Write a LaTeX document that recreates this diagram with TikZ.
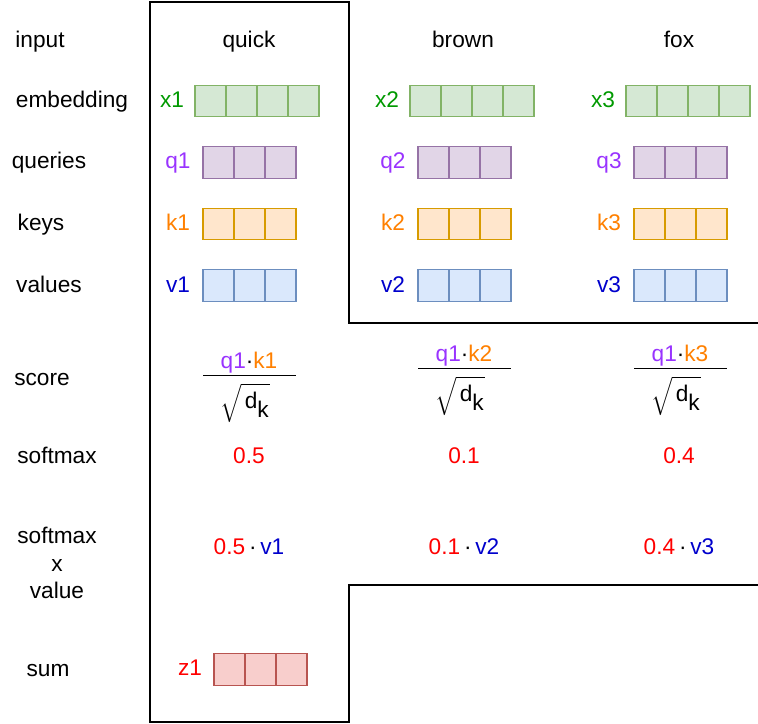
\documentclass[tikz,border=0pt]{standalone}
\usepackage{amsmath}
\usepackage{fontspec}
\setmainfont{Liberation Sans}
\usepackage{tikz}
\usepackage{xcolor}

\definecolor{xtxt}{HTML}{009900}
\definecolor{qtxt}{HTML}{9933FF}
\definecolor{ktxt}{HTML}{FF8000}
\definecolor{vtxt}{HTML}{0000CC}
\definecolor{ztxt}{HTML}{FF0000}
\definecolor{xfill}{HTML}{D5E8D4}
\definecolor{xline}{HTML}{82B366}
\definecolor{qfill}{HTML}{E1D5E7}
\definecolor{qline}{HTML}{9673A6}
\definecolor{kfill}{HTML}{FFE6CC}
\definecolor{kline}{HTML}{D79B00}
\definecolor{vfill}{HTML}{DAE8FC}
\definecolor{vline}{HTML}{6C8EBF}
\definecolor{zfill}{HTML}{F8CECC}
\definecolor{zline}{HTML}{B85450}

\begin{document}
\begin{tikzpicture}[x=0.02cm, y=-0.02cm]

\tikzstyle{every node} = [inner sep=0pt, font=\fontsize{12.9}{15.6}\selectfont, text height=0.98em, text depth=0.2em]
\tikzstyle{cell} = [rectangle, draw, line width=0.7pt, minimum width=0.62cm, minimum height=0.63cm]
\tikzstyle{free} = [text height={}, text depth={}]

\useasboundingbox (0,0) rectangle (758,724);

% row labels
\node (input) at (40,41) {input};
\node (emb) at (72,101) {embedding};
\node (qry) at (49,162) {queries};
\node (key) at (41,224) {keys};
\node (val) at (49,286) {values};
\node (score) at (42,379) {score};
\node (smax) at (57,457) {softmax};
\node[free, align=center] (smv) at (57,563) {softmax\\x\\value};
\node (sum) at (48,670) {sum};

% words
\node (w1) at (249,41) {quick};
\node (w2) at (463,41) {brown};
\node (w3) at (679,41) {fox};

% vectors
\foreach \c/\xo in {1/0, 2/215, 3/431} {
  \node[text=xtxt] (x\c) at (172+\xo,101) {x\c};
  \foreach \i in {0,...,3}
    \node[cell, fill=xfill, draw=xline] (x\c-\i) at (210.5+\xo+31*\i,101) {};
  \node[text=qtxt] (q\c) at (178+\xo,162) {q\c};
  \node[text=ktxt] (k\c) at (178+\xo,224) {k\c};
  \node[text=vtxt] (v\c) at (178+\xo,286) {v\c};
  \foreach \i in {0,...,2} {
    \node[cell, fill=qfill, draw=qline] (q\c-\i) at (218.5+\xo+31*\i,162.5) {};
    \node[cell, fill=kfill, draw=kline] (k\c-\i) at (218.5+\xo+31*\i,224) {};
    \node[cell, fill=vfill, draw=vline] (v\c-\i) at (218.5+\xo+31*\i,285.5) {};
  }
}

% scores
\foreach \c/\xo/\yo in {1/0/7, 2/215/0, 3/431/0} {
  \node[free] (num\c) at (249+\xo,356+\yo) {\textcolor{qtxt}{q1}·\textcolor{ktxt}{k\c}};
  \draw[line width=0.7pt] (203+\xo,368.5+\yo) -- (296+\xo,368.5+\yo);
  \node[free] (den\c) at (245+\xo,396+\yo) {$\sqrt{\mathstrut\,\text{d}_{\textstyle\text{k}}}$};
}

% softmax
\node[text=ztxt] (s1) at (249,457) {0.5};
\node[text=ztxt] (s2) at (464,457) {0.1};
\node[text=ztxt] (s3) at (679,457) {0.4};

\node (p1) at (249,548) {\textcolor{ztxt}{0.5}\,·\,\textcolor{vtxt}{v1}};
\node (p2) at (464,548) {\textcolor{ztxt}{0.1}\,·\,\textcolor{vtxt}{v2}};
\node (p3) at (679,548) {\textcolor{ztxt}{0.4}\,·\,\textcolor{vtxt}{v3}};

% sum
\node[text=ztxt] (z1) at (190,669) {z1};
\foreach \i in {0,...,2}
  \node[cell, fill=zfill, draw=zline] (z1-\i) at (229.5+31*\i,669.5) {};

% outline
\draw[line width=1.1pt] (758,323) -- (349,323) -- (349,2) -- (150,2) -- (150,722) -- (349,722) -- (349,585) -- (758,585);

\end{tikzpicture}
\end{document}
